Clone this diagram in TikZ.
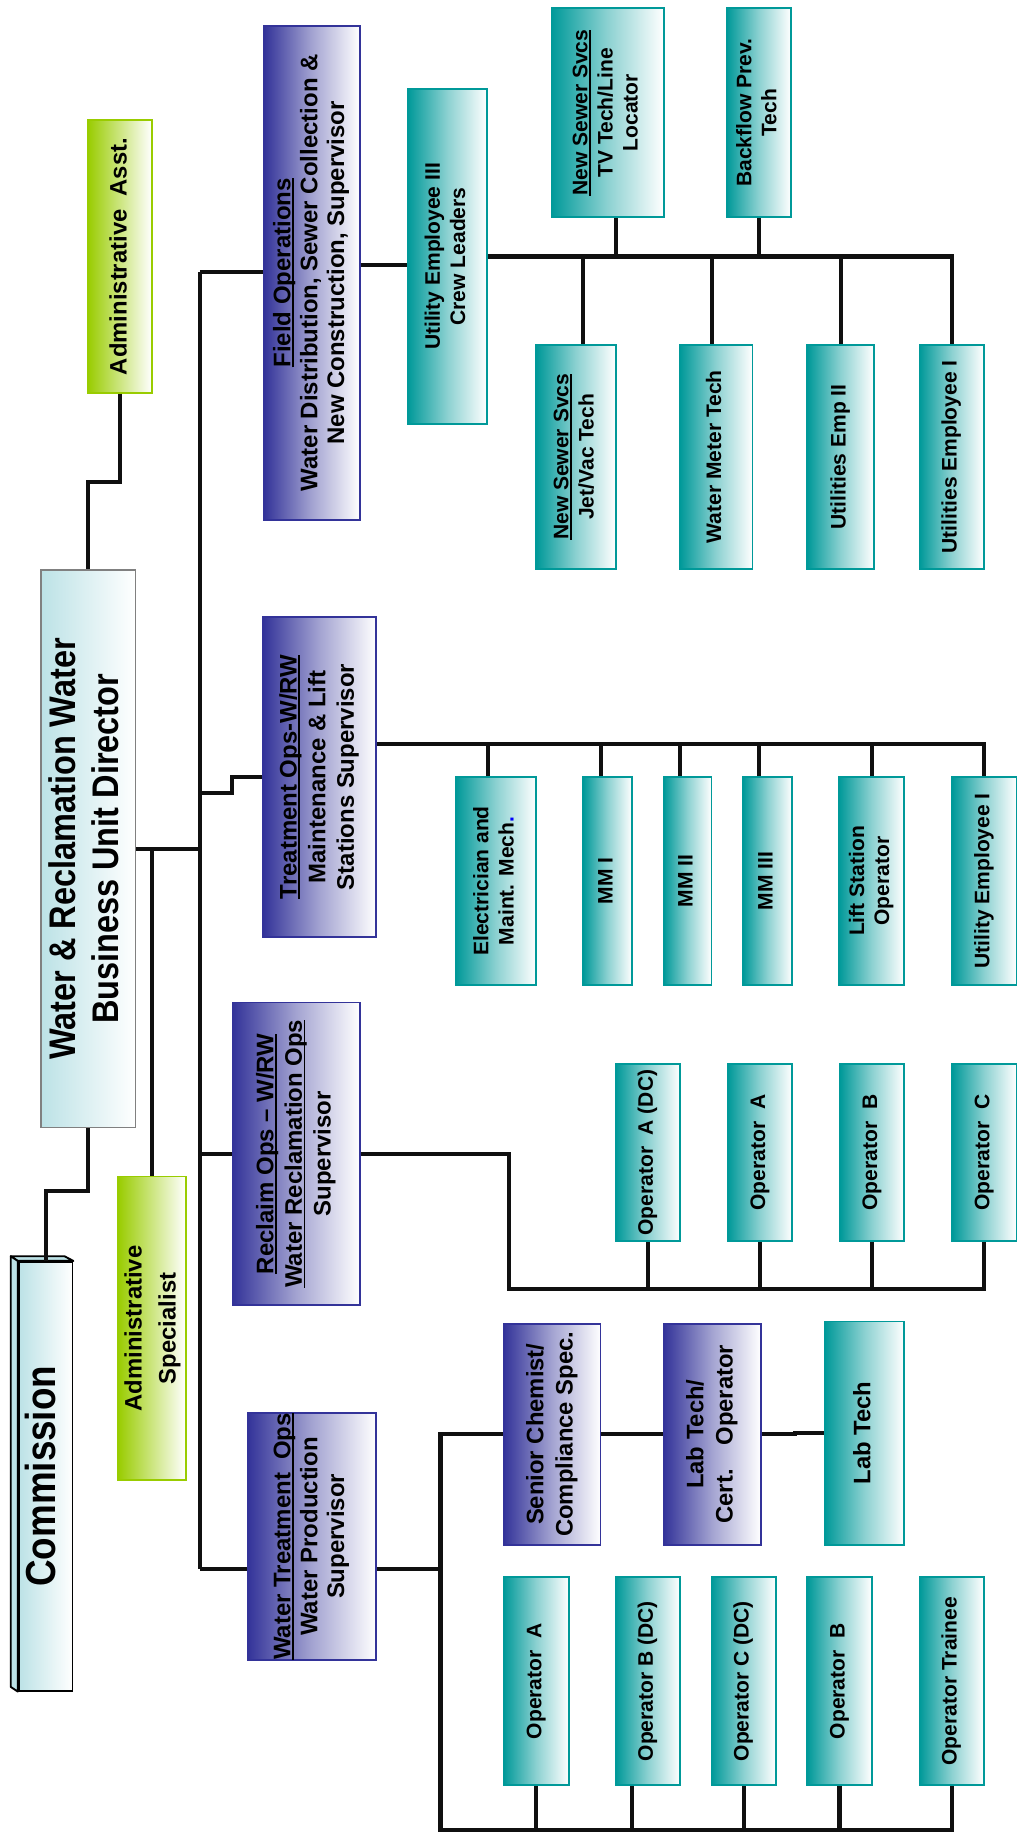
\documentclass[tikz,border=0pt]{standalone}
\usepackage{fontspec}
\setmainfont{Liberation Sans}
\usepackage{graphicx}
\usetikzlibrary{calc}

\definecolor{tealc}{RGB}{0,153,153}
\definecolor{bluec}{RGB}{51,51,153}
\definecolor{greenc}{RGB}{153,204,0}
\definecolor{headc}{RGB}{188,226,230}
\definecolor{framec}{RGB}{128,128,128}
\definecolor{linec}{RGB}{16,16,16}

\newcommand{\staffsize}{\fontsize{18}{21.5}\selectfont\bfseries}
\newcommand{\bosssize}{\fontsize{20.5}{23}\selectfont\bfseries}
\newcommand{\labsize}{\fontsize{20.4}{25}\selectfont\bfseries}
\newcommand{\helpsize}{\fontsize{20.4}{29}\selectfont\bfseries}
\newcommand{\dirsize}{\fontsize{27.8}{32.5}\selectfont\bfseries}
\newcommand{\commsize}{\fontsize{31.5}{36}\selectfont\bfseries}
\newcommand{\uptext}[1]{\rotatebox{90}{\begin{tabular}{@{}c@{}}#1\end{tabular}}}
\newcommand{\tallup}[1]{\rotatebox{90}{\scalebox{1}[1.14]{\begin{tabular}{@{}c@{}}#1\end{tabular}}}}
\newcommand{\ulined}[1]{\setbox0\hbox{#1}\rlap{\rule[-3pt]{\wd0}{1.6pt}}\box0}

\begin{document}
\begin{tikzpicture}[x=1pt,y=-1pt,
  post/.style={line width=1.6pt,inner sep=0pt,right color=white},
  dims/.style 2 args={minimum width=#1,minimum height=#2},
  chief/.style={post,draw=black,left color=headc,font=\commsize},
  boss/.style={post,draw=bluec,left color=bluec,middle color=bluec!45,font=\bosssize},
  staff/.style={post,draw=tealc,left color=tealc,middle color=tealc!45,font=\staffsize},
  helper/.style={post,draw=greenc,left color=greenc,font=\helpsize},
  link/.style={line width=3.5pt,draw=linec}]
\useasboundingbox (0,0) rectangle (874,1568);

% top of the chart
\node[chief,dims={46}{367}] (comm) at (39,1263.5) {\tallup{Commission}};
\filldraw[fill=headc,draw=black,line width=1.6pt,line join=round] (comm.north west) -- ++(-6,-4) -- ++(46,0) -- (comm.north east) -- cycle;
\filldraw[fill=headc,draw=black,line width=1.6pt,line join=round] (comm.north west) -- ++(-6,-4) -- ([xshift=-6pt,yshift=4pt]comm.south west) -- (comm.south west) -- cycle;
\node[chief,draw=framec,dims={81}{477},font=\dirsize] (dir) at (75.5,726.5) {\tallup{Water \& Reclamation Water\\Business Unit Director}};
\node[helper,dims={55}{233}] (asst) at (102.5,219.5) {\uptext{Administrative\ \ Asst.}};
\node[helper,dims={54}{260}] (spec) at (130,1137) {\uptext{Administrative\\Specialist}};

% supervisors
\node[boss,dims={82}{423}] (fieldops) at (267,233.5) {\uptext{\ulined{Field Operations}\\Water Distribution, Sewer Collection \&\\New Construction, Supervisor}};
\node[boss,dims={97}{274},font=\fontsize{20.5}{24.5}\selectfont\bfseries] (treat) at (273.5,665) {\uptext{\ulined{Treatment Ops-W/RW}\\Maintenance \& Lift\\Stations Supervisor}};
\node[boss,dims={109}{259},font=\fontsize{20.5}{24.5}\selectfont\bfseries] (reclaim) at (253.5,987.5) {\uptext{\ulined{Reclaim Ops – W/RW}\\\ulined{Water Reclamation Ops}\\Supervisor}};
\node[boss,dims={110}{174}] (wtops) at (267,1315) {\uptext{\ulined{Water Treatment\ \ Ops}\\Water Production\\Supervisor}};

% field operations
\node[staff,dims={68}{287}] (crew) at (383,219.5) {\uptext{Utility Employee III\\Crew Leaders}};
\node[staff,dims={96}{179}] (tvtech) at (520,96.5) {\uptext{\ulined{New Sewer Svcs}\\TV Tech/Line\\Locator}};
\node[staff,dims={55}{179}] (backflow) at (649.5,96.5) {\uptext{Backflow Prev.\\Tech}};
\node[staff,dims={68}{192}] (jetvac) at (493,391) {\uptext{\ulined{New Sewer Svcs}\\Jet/Vac Tech}};
\node[staff,dims={62}{192}] (meter) at (613,391) {\uptext{Water Meter Tech}};
\node[staff,dims={57}{192}] (util2) at (719.5,391) {\uptext{Utilities Emp II}};
\node[staff,dims={55}{192}] (util1) at (814.5,391) {\uptext{Utilities Employee I}};

% maintenance and lift stations
\node[staff,dims={69}{178}] (elec) at (424.5,754) {\uptext{Electrician and\\Maint. Mech{\color{blue}.}}};
\node[staff,dims={42}{178}] (mm1) at (520,754) {\uptext{MM I}};
\node[staff,dims={41}{178}] (mm2) at (588.5,754) {\uptext{MM II}};
\node[staff,dims={42}{178}] (mm3) at (657,754) {\uptext{MM III}};
\node[staff,dims={56}{178}] (lift) at (746,754) {\uptext{Lift Station\\Operator}};
\node[staff,dims={55}{178}] (tutil) at (842.5,754) {\uptext{Utility Employee I}};

% water reclamation
\node[staff,dims={55}{151}] (rcAdc) at (554.5,986.5) {\uptext{Operator\ \ A (DC)}};
\node[staff,dims={55}{151}] (rcA) at (650.5,986.5) {\uptext{Operator\ \ A}};
\node[staff,dims={55}{151}] (rcB) at (746.5,986.5) {\uptext{Operator\ \ B}};
\node[staff,dims={55}{151}] (rcC) at (842.5,986.5) {\uptext{Operator\ \ C}};

% water production
\node[boss,dims={83}{189},font=\labsize] (chem) at (472.5,1227.5) {\uptext{Senior Chemist/\\Compliance Spec.}};
\node[boss,dims={83}{189},font=\labsize] (labcert) at (609.5,1227.5) {\uptext{Lab Tech/\\Cert.\quad Operator}};
\node[staff,dims={68}{191},font=\labsize] (labtech) at (740,1226.5) {\uptext{Lab Tech}};
\node[staff,dims={56}{178}] (wtA) at (459,1439) {\uptext{Operator\ \ A}};
\node[staff,dims={55}{178}] (wtBdc) at (554.5,1439) {\uptext{Operator B (DC)}};
\node[staff,dims={55}{178}] (wtCdc) at (636.5,1439) {\uptext{Operator C (DC)}};
\node[staff,dims={55}{178}] (wtB) at (718.5,1439) {\uptext{Operator\ \ B}};
\node[staff,dims={55}{178}] (wtT) at (814.5,1439) {\uptext{Operator Trainee}};

% bus lines
\coordinate (bustop) at (171,233);
\coordinate (busbot) at (171,1343);
\coordinate (tbus) at ([yshift=28pt]treat.east);
\coordinate (rbus) at (436,1103);
\coordinate (wbus) at (377,1566);

\draw[link] (comm.north) -- ++(0,-60) -| (dir.south);
\draw[link] (asst.south) -- ++(0,76) -| (dir.north);
\draw[link] (dir.east) -- (dir.east -| bustop);
\draw[link] (spec.north) -- (spec.north |- dir.east);
\draw[link] (bustop) -- (busbot);
\draw[link] (bustop) -- (bustop -| fieldops.west);
\draw[link] (treat.west) -- ++(-26,0) -- ++(0,14) -- ++(-28,0);
\draw[link] (reclaim.west) -- (reclaim.west -| bustop);
\draw[link] (busbot) -- (busbot -| wtops.west);

\draw[link] ([yshift=7pt]fieldops.east) -- ([yshift=7pt]fieldops.east -| crew.west);
\draw[link] (crew.east) -| (util1.north);
\draw[link] ([xshift=7pt]tvtech.south) -- ([xshift=7pt]tvtech.south |- crew.east);
\draw[link] (backflow.south) -- (backflow.south |- crew.east);
\draw[link] ([xshift=6pt]jetvac.north) -- ([xshift=6pt]jetvac.north |- crew.east);
\draw[link] ([xshift=-4pt]meter.north) -- ([xshift=-4pt]meter.north |- crew.east);
\draw[link] (util2.north) -- (util2.north |- crew.east);

\draw[link] (tbus) -| (tutil.north);
\draw[link] ([xshift=-6.5pt]elec.north) -- ([xshift=-6.5pt]elec.north |- tbus);
\draw[link] ([xshift=-6pt]mm1.north) -- ([xshift=-6pt]mm1.north |- tbus);
\draw[link] ([xshift=-6.5pt]mm2.north) -- ([xshift=-6.5pt]mm2.north |- tbus);
\draw[link] ([xshift=-7pt]mm3.north) -- ([xshift=-7pt]mm3.north |- tbus);
\draw[link] (lift.north) -- (lift.north |- tbus);

\draw[link] (reclaim.east) -| (rbus) -| (rcC.south);
\draw[link] (rcAdc.south) -- (rcAdc.south |- rbus);
\draw[link] (rcA.south) -- (rcA.south |- rbus);
\draw[link] (rcB.south) -- (rcB.south |- rbus);

\draw[link] (busbot -| wtops.east) -- (busbot -| wbus);
\draw[link] (chem.west) -| (wbus) -| (wtT.south);
\draw[link] (chem.east) -- (labcert.west);
\draw[link] (labcert.east) -- ++(29,0) |- (labtech.west);
\draw[link] (wtA.south) -- (wtA.south |- wbus);
\draw[link] ([xshift=-13.5pt]wtBdc.south) -- ([xshift=-13.5pt]wtBdc.south |- wbus);
\draw[link] (wtCdc.south) -- (wtCdc.south |- wbus);
\draw[link] (wtB.south) -- (wtB.south |- wbus);
\end{tikzpicture}
\end{document}
